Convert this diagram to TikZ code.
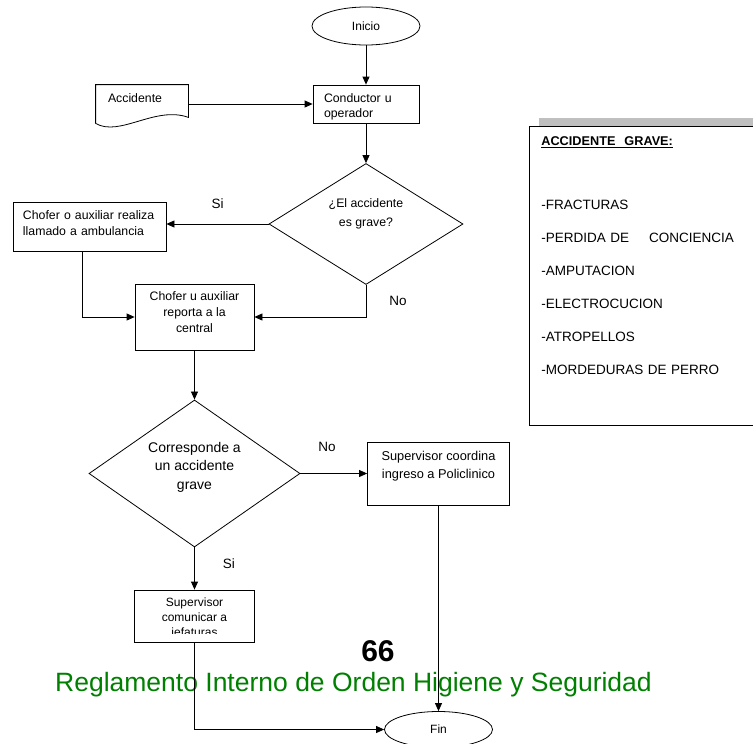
\documentclass[tikz,border=0pt]{standalone}
\usepackage{fontspec}
\setmainfont{Liberation Sans}
\usetikzlibrary{positioning,arrows.meta,shapes.geometric,shadows}
\tikzset{>={Triangle[width=7pt,length=8pt]}}

\begin{document}
\begin{tikzpicture}[
    x=1pt, y=-1pt,
    line width=0.8pt,
    proceso/.style={
        draw,
        rectangle,
        inner ysep=0pt,
        font=\fontsize{12.3}{16}\selectfont
        },
    decision/.style={draw, diamond, aspect=1.6, inner sep=0pt, align=center},
    terminal/.style={draw, ellipse, inner sep=0pt, font=\fontsize{12}{14}\selectfont},
    rotulo/.style={font=\fontsize{13.5}{16}\selectfont, inner sep=1pt},
    panel/.style={
        draw,
        fill=white,
        anchor=north west,
        align=left,
        text width=215pt,
        inner xsep=12pt,
        inner ysep=10pt,
        font=\fontsize{13.5}{33}\selectfont,
        drop shadow={shadow xshift=10pt, shadow yshift=8pt, fill=gray!50, opacity=1}
        }
    ]
    \useasboundingbox (0,0) rectangle (753,744);
    \clip (0,0) rectangle (753,744);

    % pie de pagina
    \node[font=\fontsize{30}{32}\selectfont\bfseries] (pagina) at (378,651) {66};
    \node[font=\fontsize{26.5}{30}\selectfont, text=green!50!black] (pie) at (353.5,685)
        {Reglamento Interno de Orden Higiene y Seguridad};

    \begin{scope}[on grid]
    \node[terminal, minimum width=108pt, minimum height=38pt] (inicio) at (366,26) {Inicio};
    \node[proceso, minimum width=106pt, minimum height=38pt] (conductor) [below=78pt of inicio] {};
    \node[proceso, draw=none, minimum width=92pt, minimum height=38pt, text width=68pt, inner xsep=12pt, align=left]
        (accidente) [left=224pt of conductor] {Accidente\\[-4pt]\mbox{}};
    \node[decision, minimum width=194pt, minimum height=121pt, font=\fontsize{12.3}{19}\selectfont]
        (grave) [below=120pt of conductor] {¿El accidente\\es grave?\\[4pt]\mbox{}};
    \node[proceso, minimum width=153pt, minimum height=49pt, text width=133pt, inner xsep=10pt, align=left]
        (llamado) [below left=2.5pt and 276.5pt of grave] {Chofer o auxiliar realiza\\llamado a ambulancia\\[-9pt]\mbox{}};
    \node[proceso, minimum width=119pt, minimum height=66pt, align=center]
        (reporta) [below right=90.5pt and 105pt of llamado] {Chofer u auxiliar\\reporta a la\\central\\[-7pt]\mbox{}};
    \node[decision, minimum width=211pt, minimum height=147pt, font=\fontsize{14}{18.5}\selectfont]
        (corresponde) [below=156.5pt of reporta] {Corresponde a\\un accidente\\grave\\[-2.5pt]\mbox{}};
    \node[proceso, minimum width=142pt, minimum height=63pt, align=center, font=\fontsize{12.8}{18}\selectfont]
        (coordina) [right=244pt of corresponde] {Supervisor coordina\\ingreso a Policlinico\\\mbox{}};
    \node[proceso, minimum width=120pt, minimum height=52pt] (comunica) [below=142.5pt of corresponde] {};
    \node[terminal, minimum width=108pt, minimum height=36pt] (fin) [below=256pt of coordina] {Fin};
    \end{scope}

    % textos cortados por su caja
    \begin{scope}
    \clip ([yshift=1pt]conductor.south west) rectangle (conductor.north east);
    \node[align=left, text width=84pt, font=\fontsize{12.3}{15}\selectfont] (conductor texto)
        at ([yshift=-2.5pt]conductor.center) {Conductor u\\operador};
    \end{scope}
    \begin{scope}
    \clip ([yshift=9pt]comunica.south west) rectangle (comunica.north east);
    \node[align=center, font=\fontsize{12}{15}\selectfont] (comunica texto) at ([yshift=-2pt]comunica.center)
        {Supervisor\\comunicar a\\jefaturas};
    \end{scope}

    % forma de documento
    \draw (accidente.south west) -- (accidente.north west) -- (accidente.north east)
        -- ([yshift=6pt]accidente.south east)
        .. controls ([xshift=-33pt,yshift=18pt]accidente.south east) and ([xshift=24pt,yshift=-14pt]accidente.south west)
        .. (accidente.south west);

    \node[panel] (lista) at (529,126) {{\fontsize{12.7}{33}\selectfont\bfseries\underline{ACCIDENTE\ \ GRAVE:}}\\[31pt]
        -FRACTURAS\\
        -PERDIDA DE\hspace*{20pt}CONCIENCIA\\
        -AMPUTACION\\
        -ELECTROCUCION\\
        -ATROPELLOS\\
        -MORDEDURAS DE PERRO\\[8pt]\mbox{}};

    \draw[->] (inicio) -- (conductor);
    \draw[->] (accidente.east) -- (conductor.west);
    \draw[->] (conductor) -- (grave);
    \draw[->] (grave.west) -- (grave.west -| llamado.east) node[midway, above=14pt, rotulo] (si grave) {Si};
    \draw[->] ([xshift=-7.5pt]llamado.south) |- (reporta.west);
    \draw[->] (grave.south) |- (reporta.east) node[pos=0.25, right=22pt, rotulo] (no grave) {No};
    \draw[->] (reporta) -- (corresponde);
    \draw[->] (corresponde.east) -- (coordina.west) node[pos=0.4, above=20pt, rotulo] (no corresponde) {No};
    \draw[->] (corresponde) -- (comunica) node[pos=0.38, right=27pt, rotulo] (si corresponde) {Si};
    \draw[->] (coordina.south -| fin.north) -- (fin.north);
    \draw[->] (comunica.south) |- (fin.west);
\end{tikzpicture}
\end{document}
